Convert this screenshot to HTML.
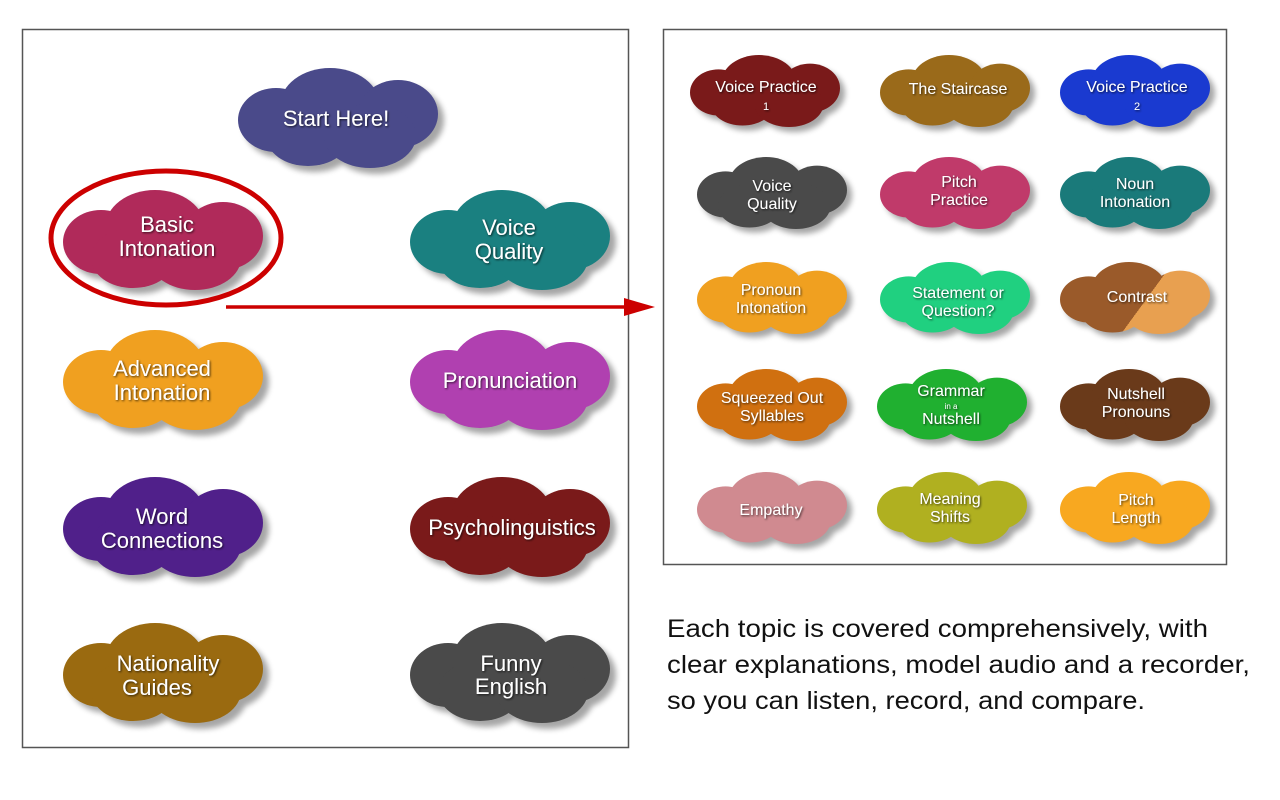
<!DOCTYPE html>
<html><head><meta charset="utf-8"><style>
html,body{margin:0;padding:0;background:#fff;}
svg{display:block}
.t{font-family:"Liberation Sans","DejaVu Sans",sans-serif;fill:#fff;text-anchor:middle}
</style></head><body>
<svg width="1280" height="800" viewBox="0 0 1280 800" xmlns="http://www.w3.org/2000/svg">
<defs>
<symbol id="c" viewBox="0 0 200 100" preserveAspectRatio="none" overflow="visible">
<ellipse cx="38" cy="52" rx="38" ry="32"/>
<ellipse cx="92" cy="38" rx="50" ry="38"/>
<ellipse cx="160" cy="46" rx="40" ry="34"/>
<ellipse cx="70" cy="68" rx="42" ry="30"/>
<ellipse cx="132" cy="68" rx="46" ry="32"/>
</symbol>
<filter id="sh" x="-20%" y="-20%" width="140%" height="150%"><feGaussianBlur stdDeviation="3"/></filter>
<filter id="ts"><feDropShadow dx="1" dy="1" stdDeviation="1" flood-color="#000" flood-opacity="0.7"/></filter>
<linearGradient id="split" gradientUnits="userSpaceOnUse" x1="100" y1="20" x2="150" y2="55"><stop offset="0.5" stop-color="#9a5a2a"/><stop offset="0.5" stop-color="#e8a050"/></linearGradient>
</defs>
<rect x="22.5" y="29.5" width="606" height="718" fill="#fff" stroke="#555" stroke-width="1.5"/>
<rect x="663.5" y="29.5" width="563" height="535" fill="#fff" stroke="#555" stroke-width="1.5"/>

<g id="L">
<g transform="translate(238,68)"><use href="#c" x="6" y="6" width="200" height="100" fill="#000" opacity=".35" filter="url(#sh)"/><use href="#c" width="200" height="100" fill="#4a4a8a"/></g>
<g transform="translate(63,190)"><use href="#c" x="6" y="6" width="200" height="100" fill="#000" opacity=".35" filter="url(#sh)"/><use href="#c" width="200" height="100" fill="#b02a5a"/></g>
<g transform="translate(410,190)"><use href="#c" x="6" y="6" width="200" height="100" fill="#000" opacity=".35" filter="url(#sh)"/><use href="#c" width="200" height="100" fill="#1a8080"/></g>
<g transform="translate(63,330)"><use href="#c" x="6" y="6" width="200" height="100" fill="#000" opacity=".35" filter="url(#sh)"/><use href="#c" width="200" height="100" fill="#f0a020"/></g>
<g transform="translate(410,330)"><use href="#c" x="6" y="6" width="200" height="100" fill="#000" opacity=".35" filter="url(#sh)"/><use href="#c" width="200" height="100" fill="#b040b0"/></g>
<g transform="translate(63,477)"><use href="#c" x="6" y="6" width="200" height="100" fill="#000" opacity=".35" filter="url(#sh)"/><use href="#c" width="200" height="100" fill="#50208a"/></g>
<g transform="translate(410,477)"><use href="#c" x="6" y="6" width="200" height="100" fill="#000" opacity=".35" filter="url(#sh)"/><use href="#c" width="200" height="100" fill="#7a1a1a"/></g>
<g transform="translate(63,623)"><use href="#c" x="6" y="6" width="200" height="100" fill="#000" opacity=".35" filter="url(#sh)"/><use href="#c" width="200" height="100" fill="#9a6a10"/></g>
<g transform="translate(410,623)"><use href="#c" x="6" y="6" width="200" height="100" fill="#000" opacity=".35" filter="url(#sh)"/><use href="#c" width="200" height="100" fill="#4a4a4a"/></g>
</g>
<g class="t" font-size="22" filter="url(#ts)">
<text x="336" y="126">Start Here!</text>
<text x="167" y="232">Basic</text><text x="167" y="256">Intonation</text>
<text x="509" y="235">Voice</text><text x="509" y="259">Quality</text>
<text x="162" y="376">Advanced</text><text x="162" y="400">Intonation</text>
<text x="510" y="388">Pronunciation</text>
<text x="162" y="524">Word</text><text x="162" y="548">Connections</text>
<text x="512" y="535">Psycholinguistics</text>
<text x="168" y="671">Nationality</text><text x="157" y="695">Guides</text>
<text x="511" y="671">Funny</text><text x="511" y="694">English</text>
</g>
<ellipse cx="166" cy="238" rx="115" ry="67" fill="none" stroke="#cc0000" stroke-width="5"/>
<line x1="226" y1="307" x2="630" y2="307" stroke="#cc0000" stroke-width="3.5"/>
<polygon points="624,298 655,307 624,316" fill="#cc0000"/>

<g>
<g transform="translate(690,55)"><use href="#c" x="5" y="5" width="150" height="72" fill="#000" opacity=".35" filter="url(#sh)"/><use href="#c" width="150" height="72" fill="#7a1a1a"/></g>
<g transform="translate(880,55)"><use href="#c" x="5" y="5" width="150" height="72" fill="#000" opacity=".35" filter="url(#sh)"/><use href="#c" width="150" height="72" fill="#9a6a1a"/></g>
<g transform="translate(1060,55)"><use href="#c" x="5" y="5" width="150" height="72" fill="#000" opacity=".35" filter="url(#sh)"/><use href="#c" width="150" height="72" fill="#1a3ad0"/></g>
<g transform="translate(697,157)"><use href="#c" x="5" y="5" width="150" height="72" fill="#000" opacity=".35" filter="url(#sh)"/><use href="#c" width="150" height="72" fill="#4a4a4a"/></g>
<g transform="translate(880,157)"><use href="#c" x="5" y="5" width="150" height="72" fill="#000" opacity=".35" filter="url(#sh)"/><use href="#c" width="150" height="72" fill="#c03a6a"/></g>
<g transform="translate(1060,157)"><use href="#c" x="5" y="5" width="150" height="72" fill="#000" opacity=".35" filter="url(#sh)"/><use href="#c" width="150" height="72" fill="#1a7a7a"/></g>
<g transform="translate(697,262)"><use href="#c" x="5" y="5" width="150" height="72" fill="#000" opacity=".35" filter="url(#sh)"/><use href="#c" width="150" height="72" fill="#f0a020"/></g>
<g transform="translate(880,262)"><use href="#c" x="5" y="5" width="150" height="72" fill="#000" opacity=".35" filter="url(#sh)"/><use href="#c" width="150" height="72" fill="#20d080"/></g>
<g transform="translate(1060,262)"><use href="#c" x="5" y="5" width="150" height="72" fill="#000" opacity=".35" filter="url(#sh)"/><use href="#c" width="150" height="72" fill="url(#split)"/></g>
<g transform="translate(697,369)"><use href="#c" x="5" y="5" width="150" height="72" fill="#000" opacity=".35" filter="url(#sh)"/><use href="#c" width="150" height="72" fill="#d07010"/></g>
<g transform="translate(877,369)"><use href="#c" x="5" y="5" width="150" height="72" fill="#000" opacity=".35" filter="url(#sh)"/><use href="#c" width="150" height="72" fill="#20b030"/></g>
<g transform="translate(1060,369)"><use href="#c" x="5" y="5" width="150" height="72" fill="#000" opacity=".35" filter="url(#sh)"/><use href="#c" width="150" height="72" fill="#6a3a1a"/></g>
<g transform="translate(697,472)"><use href="#c" x="5" y="5" width="150" height="72" fill="#000" opacity=".35" filter="url(#sh)"/><use href="#c" width="150" height="72" fill="#d08a90"/></g>
<g transform="translate(877,472)"><use href="#c" x="5" y="5" width="150" height="72" fill="#000" opacity=".35" filter="url(#sh)"/><use href="#c" width="150" height="72" fill="#b0b020"/></g>
<g transform="translate(1060,472)"><use href="#c" x="5" y="5" width="150" height="72" fill="#000" opacity=".35" filter="url(#sh)"/><use href="#c" width="150" height="72" fill="#f8a820"/></g>
</g>
<g class="t" font-size="16" filter="url(#ts)">
<text x="766" y="92">Voice Practice</text><text x="766" y="110" font-size="11">1</text>
<text x="958" y="94">The Staircase</text>
<text x="1137" y="92">Voice Practice</text><text x="1137" y="110" font-size="11">2</text>
<text x="772" y="191">Voice</text><text x="772" y="209">Quality</text>
<text x="959" y="187">Pitch</text><text x="959" y="205">Practice</text>
<text x="1135" y="189">Noun</text><text x="1135" y="207">Intonation</text>
<text x="771" y="295">Pronoun</text><text x="771" y="313">Intonation</text>
<text x="958" y="298">Statement or</text><text x="958" y="316">Question?</text>
<text x="1137" y="302">Contrast</text>
<text x="772" y="403">Squeezed Out</text><text x="772" y="421">Syllables</text>
<text x="951" y="396">Grammar</text><text x="951" y="409" font-size="8">in a</text><text x="951" y="424">Nutshell</text>
<text x="1136" y="399">Nutshell</text><text x="1136" y="417">Pronouns</text>
<text x="771" y="515">Empathy</text>
<text x="950" y="504">Meaning</text><text x="950" y="522">Shifts</text>
<text x="1136" y="505">Pitch</text><text x="1136" y="523">Length</text>
</g>
<g font-family="Liberation Sans, sans-serif" font-size="25" fill="#111">
<text x="667" y="637" textLength="541" lengthAdjust="spacingAndGlyphs">Each topic is covered comprehensively, with</text>
<text x="667" y="673" textLength="583" lengthAdjust="spacingAndGlyphs">clear explanations, model audio and a recorder,</text>
<text x="667" y="709" textLength="478" lengthAdjust="spacingAndGlyphs">so you can listen, record, and compare.</text>
</g>
</svg>
</body></html>
